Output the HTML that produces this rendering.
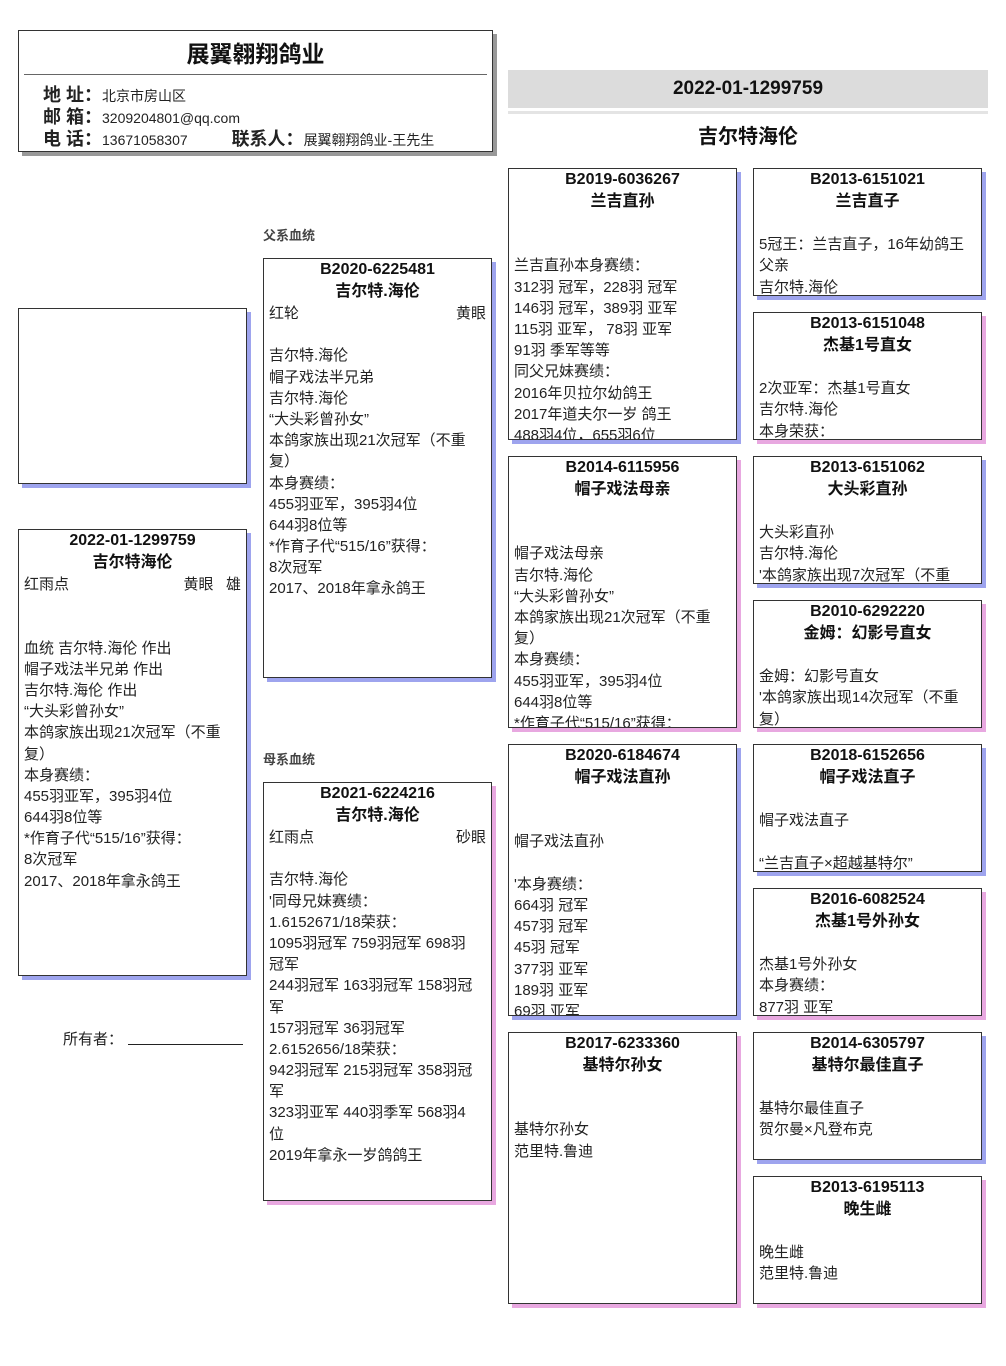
<!DOCTYPE html>
<html><head><meta charset="utf-8">
<style>
body{margin:0;width:1006px;height:1366px;background:#fff;position:relative;overflow:hidden;font-family:"Liberation Sans","Noto Sans CJK SC",sans-serif;color:#222}
.b{position:absolute;border:1px solid #333;background:#fff;overflow:hidden;font-size:15px;line-height:21px;box-sizing:border-box}
.m{box-shadow:4px 4px 0 #9ea4ee}
.f{box-shadow:4px 4px 0 #e8a8e0}
.b div{padding:0 5px;white-space:nowrap;height:21.2px}
.b div.t{text-align:center;font-weight:bold;font-size:16px;color:#111;height:22px;line-height:22px}
.r{display:flex;justify-content:space-between}
.lbl{position:absolute;font-size:13px;font-weight:bold;color:#444}
</style></head><body>

<div style="position:absolute;left:18px;top:30px;width:475px;height:122px;border:1px solid #333;box-sizing:border-box;box-shadow:4px 4px 0 #999;background:#fff">
 <div style="text-align:center;font-size:23px;font-weight:bold;margin-top:4px;color:#111">展翼翱翔鸽业</div>
 <div style="position:absolute;left:5px;right:5px;top:43px;border-top:1px solid #666"></div>
 <div style="position:absolute;left:24px;top:54px;line-height:21px;font-size:14px;white-space:nowrap">
  <div><b style="font-size:18px">地 址：</b>北京市房山区</div>
  <div><b style="font-size:18px">邮 箱：</b>3209204801@qq.com</div>
  <div><b style="font-size:18px">电 话：</b>13671058307 <b style="font-size:18px;margin-left:40px">联系人：</b>展翼翱翔鸽业-王先生</div>
 </div>
</div>

<div style="position:absolute;left:508px;top:70px;width:480px;height:38px;background:#dcdcdc;text-align:center;font-weight:bold;font-size:19px;line-height:38px;color:#111">2022-01-1299759</div>
<div style="position:absolute;left:508px;top:111px;width:480px;border-top:3px solid #e4e4e4"></div>
<div style="position:absolute;left:508px;top:120px;width:480px;text-align:center;font-weight:bold;font-size:20px;color:#111">吉尔特海伦</div>

<div class="b m" style="left:18px;top:308px;width:229px;height:176px"></div>

<div class="b m" style="left:18px;top:529px;width:229px;height:447px">
<div class="t">2022-01-1299759</div><div class="t">吉尔特海伦</div>
<div class="r"><span>红雨点</span><span>黄眼&nbsp;&nbsp;&nbsp;雄</span></div>
<div></div><div></div>
<div>血统 吉尔特.海伦 作出</div><div>帽子戏法半兄弟 作出</div><div>吉尔特.海伦 作出</div>
<div>“大头彩曾孙女”</div><div>本鸽家族出现21次冠军（不重</div><div>复）</div><div>本身赛绩：</div>
<div>455羽亚军，395羽4位</div><div>644羽8位等</div><div>*作育子代“515/16”获得：</div><div>8次冠军</div><div>2017、2018年拿永鸽王</div>
</div>

<div style="position:absolute;left:63px;top:1028px;font-size:15px">所有者：</div>
<div style="position:absolute;left:128px;top:1044px;width:115px;border-top:1px solid #222"></div>

<div class="lbl" style="left:263px;top:225px">父系血统</div>
<div class="b m" style="left:263px;top:258px;width:229px;height:420px">
<div class="t">B2020-6225481</div><div class="t">吉尔特.海伦</div>
<div class="r"><span>红轮</span><span>黄眼</span></div><div></div>
<div>吉尔特.海伦</div><div>帽子戏法半兄弟</div><div>吉尔特.海伦</div><div>“大头彩曾孙女”</div>
<div>本鸽家族出现21次冠军（不重</div><div>复）</div><div>本身赛绩：</div><div>455羽亚军，395羽4位</div>
<div>644羽8位等</div><div>*作育子代“515/16”获得：</div><div>8次冠军</div><div>2017、2018年拿永鸽王</div>
</div>

<div class="lbl" style="left:263px;top:749px">母系血统</div>
<div class="b f" style="left:263px;top:782px;width:229px;height:419px">
<div class="t">B2021-6224216</div><div class="t">吉尔特.海伦</div>
<div class="r"><span>红雨点</span><span>砂眼</span></div><div></div>
<div>吉尔特.海伦</div><div>'同母兄妹赛绩：</div><div>1.6152671/18荣获：</div>
<div>1095羽冠军 759羽冠军 698羽</div><div>冠军</div><div>244羽冠军 163羽冠军 158羽冠</div><div>军</div>
<div>157羽冠军 36羽冠军</div><div>2.6152656/18荣获：</div><div>942羽冠军 215羽冠军 358羽冠</div><div>军</div>
<div>323羽亚军 440羽季军 568羽4</div><div>位</div><div>2019年拿永一岁鸽鸽王</div>
</div>

<div class="b m" style="left:508px;top:168px;width:229px;height:272px">
<div class="t">B2019-6036267</div><div class="t">兰吉直孙</div><div></div><div></div>
<div>兰吉直孙本身赛绩：</div><div>312羽 冠军，228羽 冠军</div><div>146羽 冠军，389羽 亚军</div><div>115羽 亚军， 78羽 亚军</div>
<div>91羽 季军等等</div><div>同父兄妹赛绩：</div><div>2016年贝拉尔幼鸽王</div><div>2017年道夫尔一岁 鸽王</div><div>488羽4位，655羽6位</div>
</div>
<div class="b f" style="left:508px;top:456px;width:229px;height:272px">
<div class="t">B2014-6115956</div><div class="t">帽子戏法母亲</div><div></div><div></div>
<div>帽子戏法母亲</div><div>吉尔特.海伦</div><div>“大头彩曾孙女”</div><div>本鸽家族出现21次冠军（不重</div>
<div>复）</div><div>本身赛绩：</div><div>455羽亚军，395羽4位</div><div>644羽8位等</div><div>*作育子代“515/16”获得：</div>
</div>
<div class="b m" style="left:508px;top:744px;width:229px;height:272px">
<div class="t">B2020-6184674</div><div class="t">帽子戏法直孙</div><div></div><div></div>
<div>帽子戏法直孙</div><div></div><div>'本身赛绩：</div><div>664羽 冠军</div><div>457羽 冠军</div><div>45羽 冠军</div><div>377羽 亚军</div><div>189羽 亚军</div><div>69羽 亚军</div>
</div>
<div class="b f" style="left:508px;top:1032px;width:229px;height:272px">
<div class="t">B2017-6233360</div><div class="t">基特尔孙女</div><div></div><div></div>
<div>基特尔孙女</div><div>范里特.鲁迪</div>
</div>

<div class="b m" style="left:753px;top:168px;width:229px;height:128px">
<div class="t">B2013-6151021</div><div class="t">兰吉直子</div><div></div>
<div>5冠王：兰吉直子，16年幼鸽王</div><div>父亲</div><div>吉尔特.海伦</div>
</div>
<div class="b f" style="left:753px;top:312px;width:229px;height:128px">
<div class="t">B2013-6151048</div><div class="t">杰基1号直女</div><div></div>
<div>2次亚军：杰基1号直女</div><div>吉尔特.海伦</div><div>本身荣获：</div>
</div>
<div class="b m" style="left:753px;top:456px;width:229px;height:128px">
<div class="t">B2013-6151062</div><div class="t">大头彩直孙</div><div></div>
<div>大头彩直孙</div><div>吉尔特.海伦</div><div>'本鸽家族出现7次冠军（不重</div>
</div>
<div class="b f" style="left:753px;top:600px;width:229px;height:128px">
<div class="t">B2010-6292220</div><div class="t">金姆：幻影号直女</div><div></div>
<div>金姆：幻影号直女</div><div>'本鸽家族出现14次冠军（不重</div><div>复）</div>
</div>
<div class="b m" style="left:753px;top:744px;width:229px;height:128px">
<div class="t">B2018-6152656</div><div class="t">帽子戏法直子</div><div></div>
<div>帽子戏法直子</div><div></div><div>“兰吉直子×超越基特尔”</div>
</div>
<div class="b f" style="left:753px;top:888px;width:229px;height:128px">
<div class="t">B2016-6082524</div><div class="t">杰基1号外孙女</div><div></div>
<div>杰基1号外孙女</div><div>本身赛绩：</div><div>877羽 亚军</div>
</div>
<div class="b m" style="left:753px;top:1032px;width:229px;height:128px">
<div class="t">B2014-6305797</div><div class="t">基特尔最佳直子</div><div></div>
<div>基特尔最佳直子</div><div>贺尔曼×凡登布克</div>
</div>
<div class="b f" style="left:753px;top:1176px;width:229px;height:128px">
<div class="t">B2013-6195113</div><div class="t">晚生雌</div><div></div>
<div>晚生雌</div><div>范里特.鲁迪</div>
</div>

</body></html>
